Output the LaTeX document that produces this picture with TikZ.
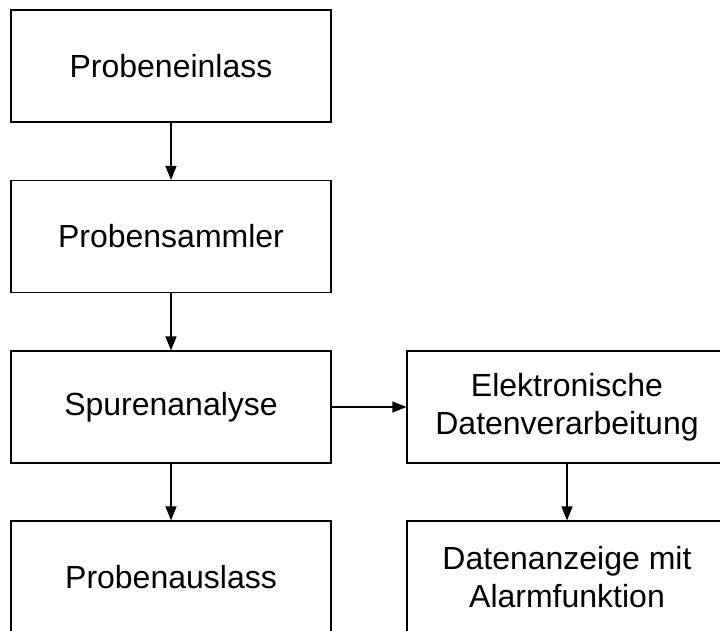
\documentclass[tikz,border=0pt]{standalone}
\usepackage{fontspec}
\setmainfont{Liberation Sans}
\usetikzlibrary{arrows.meta}

\begin{document}
\begin{tikzpicture}[line width=1.2pt,>={Triangle[length=14pt,width=11pt]},
  stufe/.style={draw,minimum width=320pt,minimum height=112pt,inner sep=0pt,
    align=center,font=\fontsize{32}{38.5}\selectfont}]
\useasboundingbox (0,0) rectangle (720pt,-630pt);
\clip (0,0) rectangle (720pt,-630pt);
% ---------- linke Spalte ----------
\node[stufe] (einlass) at (171pt,-66pt) {Probeneinlass};
\node[stufe] (sammler) at (171pt,-236.5pt) {Probensammler};
\node[stufe] (analyse) at (171pt,-407pt) {Spurenanalyse};
\node[stufe] (auslass) at (171pt,-577pt) {Probenauslass};
% ---------- rechte Spalte ----------
\node[stufe] (edv) at (567pt,-407pt) {Elektronische\\Datenverarbeitung};
\node[stufe] (anzeige) at (567pt,-577pt) {Datenanzeige mit\\Alarmfunktion};
% Pfeile
\draw[->] (einlass) -- (sammler);
\draw[->] (sammler) -- (analyse);
\draw[->] (analyse) -- (auslass);
\draw[->] (analyse) -- (edv);
\draw[->] (edv) -- (anzeige);
\end{tikzpicture}
\end{document}
